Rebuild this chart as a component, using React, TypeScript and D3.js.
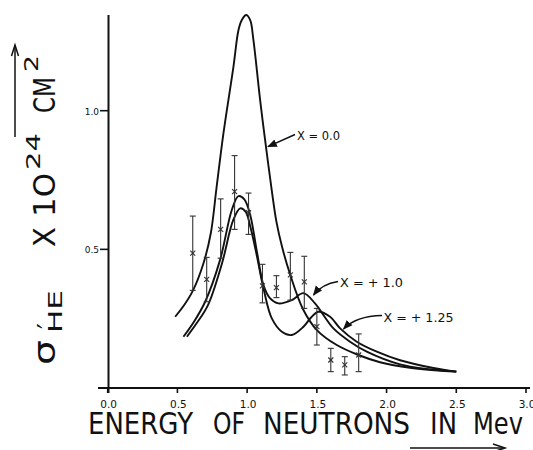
import React from "react";
import * as d3 from "d3";

// ---------- DATA ----------
const xTicks = [0, 0.5, 1.0, 1.5, 2.0, 2.5, 3.0];
const yTicks = [0.5, 1.0];

// measured points
const ptE = [0.61, 0.71, 0.81, 0.91, 1.01, 1.11, 1.21, 1.31, 1.41, 1.5, 1.6, 1.7, 1.8];
const ptS = [0.486, 0.392, 0.572, 0.708, 0.632, 0.368, 0.362, 0.408, 0.383, 0.221, 0.101, 0.083, 0.119];
const ptHi = [0.62, 0.471, 0.682, 0.838, 0.703, 0.446, 0.405, 0.489, 0.475, 0.287, 0.143, 0.113, 0.195];
const ptLo = [0.352, 0.311, 0.468, 0.572, 0.554, 0.307, 0.326, 0.317, 0.287, 0.155, 0.059, 0.047, 0.059];

// theoretical curves
const curve0E = [0.484, 0.55, 0.61, 0.687, 0.74, 0.78, 0.83, 0.902, 0.938, 0.962, 0.993, 1.022, 1.045, 1.093, 1.129, 1.18, 1.21, 1.25, 1.308, 1.4, 1.5, 1.643, 1.798, 1.953, 2.168, 2.5];
const curve0S = [0.257, 0.3, 0.35, 0.45, 0.56, 0.72, 0.918, 1.159, 1.291, 1.327, 1.345, 1.327, 1.255, 1.039, 0.894, 0.7, 0.6, 0.51, 0.41, 0.285, 0.209, 0.155, 0.119, 0.093, 0.073, 0.059];

const curve1E = [0.543, 0.62, 0.699, 0.806, 0.89, 0.938, 0.98, 1.022, 1.07, 1.117, 1.165, 1.224, 1.32, 1.404, 1.487, 1.523, 1.619, 1.738, 1.858, 2.097, 2.3, 2.5];
const curve1S = [0.185, 0.24, 0.311, 0.462, 0.642, 0.692, 0.68, 0.624, 0.492, 0.371, 0.323, 0.305, 0.317, 0.342, 0.305, 0.281, 0.215, 0.167, 0.131, 0.085, 0.068, 0.059];

const curve125E = [0.568, 0.64, 0.72, 0.82, 0.9, 0.95, 0.99, 1.02, 1.07, 1.12, 1.177, 1.249, 1.32, 1.404, 1.46, 1.511, 1.595, 1.667, 1.786, 1.93, 2.097, 2.336, 2.5];
const curve125S = [0.185, 0.235, 0.3, 0.45, 0.605, 0.648, 0.635, 0.588, 0.476, 0.353, 0.251, 0.203, 0.191, 0.221, 0.255, 0.275, 0.257, 0.215, 0.167, 0.131, 0.1, 0.072, 0.059];

const curveLabels = ["X = 0.0", "X = + 1.0", "X = + 1.25"];

// ---------- CHART ----------
const W = 533;
const H = 450;
const FONT = "'DejaVu Sans', sans-serif";

export default function App() {
  const x = d3.scaleLinear().domain([0, 3]).range([107.7, 526]);
  const y = d3.scaleLinear().domain([0, 1]).range([388, 110.7]);

  const line = d3
    .line<[number, number]>()
    .x((d) => x(d[0]))
    .y((d) => y(d[1]))
    .curve(d3.curveCatmullRom.alpha(0.5));

  const zip = (a: number[], b: number[]) => a.map((v, i) => [v, b[i]] as [number, number]);
  const curves = [zip(curve0E, curve0S), zip(curve1E, curve1S), zip(curve125E, curve125S)];

  const ink = "#111";

  return (
    <svg
      width={W}
      height={H}
      style={{ position: "absolute", left: 0, top: 0, background: "#fff" }}
      fontFamily={FONT}
    >
      <rect width={W} height={H} fill="#fff" />

      {/* axes */}
      <line x1={98} x2={530} y1={y(0)} y2={y(0)} stroke={ink} strokeWidth={2} />
      <line x1={x(0) + 0.8} x2={x(0) + 0.8} y1={y(1.345)} y2={y(0) + 5} stroke={ink} strokeWidth={2} />
      {xTicks.map((t) => (
        <g key={"xt" + t}>
          <line x1={x(t)} x2={x(t)} y1={y(0)} y2={y(0) + 5} stroke={ink} strokeWidth={1.6} />
          <text x={x(t) + 1} y={408} fontSize={10.5} textAnchor="middle" fill={ink}>
            {t.toFixed(1)}
          </text>
        </g>
      ))}
      {yTicks.map((t) => (
        <g key={"yt" + t}>
          <line x1={100} x2={x(0) + 0.8} y1={y(t)} y2={y(t)} stroke={ink} strokeWidth={1.6} />
          <text x={99} y={y(t) + 4} fontSize={9} textAnchor="end" fill={ink}>
            {t.toFixed(1)}
          </text>
        </g>
      ))}

      {/* curves */}
      {curves.map((c, i) => (
        <path key={"c" + i} d={line(c) || ""} fill="none" stroke={ink} strokeWidth={1.9} />
      ))}

      {/* data points with error bars */}
      {ptE.map((e, i) => {
        const cx = x(e);
        return (
          <g key={"p" + i} stroke="#333" strokeWidth={1.1}>
            <line x1={cx} x2={cx} y1={y(ptHi[i])} y2={y(ptLo[i])} />
            <line x1={cx - 3} x2={cx + 3} y1={y(ptHi[i])} y2={y(ptHi[i])} />
            <line x1={cx - 3} x2={cx + 3} y1={y(ptLo[i])} y2={y(ptLo[i])} />
            <line x1={cx - 2.5} x2={cx + 2.5} y1={y(ptS[i]) - 2.5} y2={y(ptS[i]) + 2.5} />
            <line x1={cx - 2.5} x2={cx + 2.5} y1={y(ptS[i]) + 2.5} y2={y(ptS[i]) - 2.5} />
          </g>
        );
      })}

      {/* curve annotations */}
      <defs>
        <marker id="ah" viewBox="0 0 10 10" refX={9} refY={5} markerWidth={7} markerHeight={7} orient="auto">
          <path d="M0,1 L10,5 L0,9 Z" fill={ink} />
        </marker>
      </defs>
      <text x={297} y={140} fontSize={12} textLength={43} lengthAdjust="spacingAndGlyphs" fill={ink}>
        {curveLabels[0]}
      </text>
      <path d="M295,134.5 L268,146.7" stroke={ink} strokeWidth={1.4} fill="none" markerEnd="url(#ah)" />
      <text x={340} y={286.5} fontSize={12.5} textLength={63} lengthAdjust="spacingAndGlyphs" fill={ink}>
        {curveLabels[1]}
      </text>
      <path d="M338,281.5 Q322,284 313.5,295" stroke={ink} strokeWidth={1.4} fill="none" markerEnd="url(#ah)" />
      <text x={383.5} y={321.5} fontSize={12.5} textLength={70} lengthAdjust="spacingAndGlyphs" fill={ink}>
        {curveLabels[2]}
      </text>
      <path d="M382,315.5 Q356,316 343.5,329" stroke={ink} strokeWidth={1.4} fill="none" markerEnd="url(#ah)" />

      {/* x axis title */}
      <g fontSize={31} fill={ink}>
        <text x={88} y={434} textLength={105} lengthAdjust="spacingAndGlyphs">ENERGY</text>
        <text x={213} y={434} textLength={32} lengthAdjust="spacingAndGlyphs">OF</text>
        <text x={263} y={434} textLength={147} lengthAdjust="spacingAndGlyphs">NEUTRONS</text>
        <text x={430} y={434} textLength={27} lengthAdjust="spacingAndGlyphs">IN</text>
        <text x={473} y={434} textLength={50} lengthAdjust="spacingAndGlyphs">Mev</text>
      </g>
      <line x1={410} x2={505} y1={448} y2={448} stroke={ink} strokeWidth={1.5} />
      <path d="M493,444 L505,448 L493,452" stroke={ink} strokeWidth={1.5} fill="none" />

      {/* y axis title (rotated) */}
      <g transform="translate(55,365) rotate(-90)" fill={ink}>
        <text x={0} y={0} fontSize={31} textLength={25} lengthAdjust="spacingAndGlyphs">σ</text>
        <text x={36} y={2} fontSize={26}>′</text>
        <text x={32} y={7} fontSize={19} textLength={43} lengthAdjust="spacingAndGlyphs">HE</text>
        <text x={118} y={0} fontSize={30} textLength={20} lengthAdjust="spacingAndGlyphs">X</text>
        <text x={148} y={0} fontSize={30} textLength={44} lengthAdjust="spacingAndGlyphs">1O</text>
        <text x={195} y={-15} fontSize={19} textLength={37} lengthAdjust="spacingAndGlyphs">24</text>
        <text x={252} y={0} fontSize={30} textLength={36} lengthAdjust="spacingAndGlyphs">CM</text>
        <text x={293} y={-17} fontSize={19} textLength={17} lengthAdjust="spacingAndGlyphs">2</text>
      </g>
      <line x1={15} x2={15} y1={45} y2={137} stroke={ink} strokeWidth={1.5} />
      <path d="M11.5,56 L15,45 L18.5,56" stroke={ink} strokeWidth={1.5} fill="none" />
    </svg>
  );
}
